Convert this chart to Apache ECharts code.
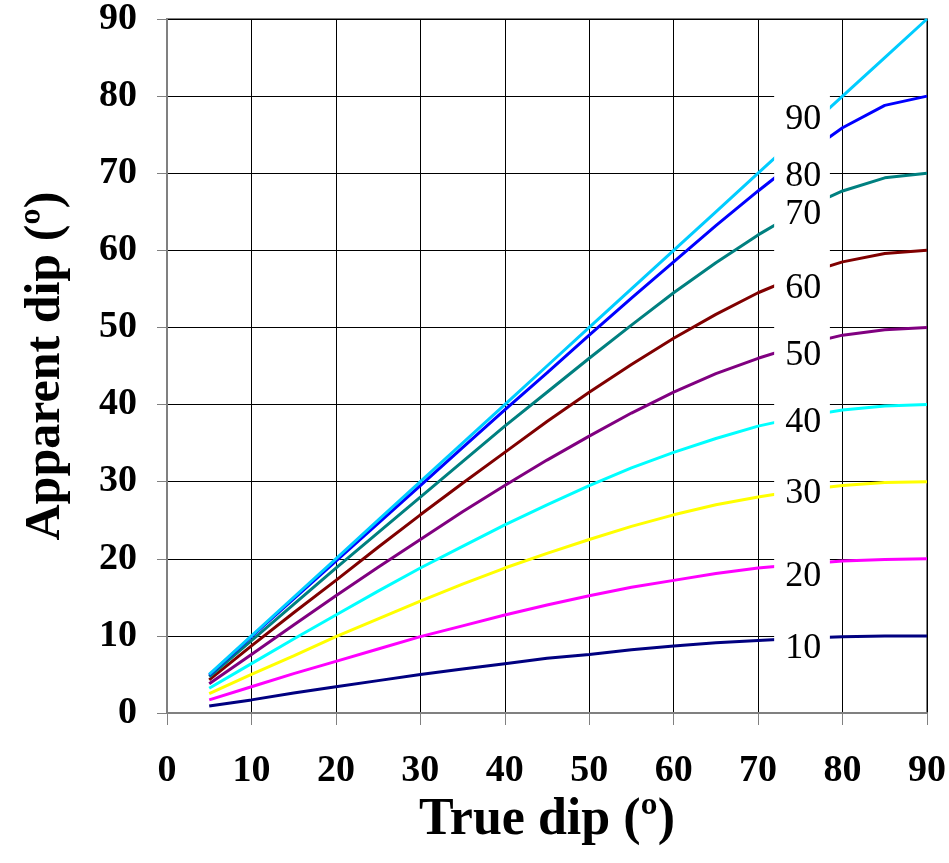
<!DOCTYPE html>
<html>
<head>
<meta charset="utf-8">
<script src="https://cdn.jsdelivr.net/npm/echarts@6/dist/echarts.min.js"></script>
<style>
html,body{margin:0;padding:0;background:#fff;}
#chart{width:949px;height:863px;}
</style>
</head>
<body>
<div id="chart"></div>
<script>
// True dip (x values)
var trueDip = [5,10,15,20,25,30,35,40,45,50,55,60,65,70,75,80,85,90];
// Apparent dip for each angle between strike and section
var dip10 = [0.9,1.7,2.6,3.4,4.2,5.0,5.7,6.4,7.1,7.6,8.2,8.7,9.1,9.4,9.7,9.9,10.0,10.0];
var dip20 = [1.7,3.4,5.1,6.7,8.3,9.9,11.3,12.7,14.0,15.2,16.3,17.2,18.1,18.8,19.3,19.7,19.9,20.0];
var dip30 = [2.5,5.0,7.4,9.9,12.2,14.5,16.7,18.8,20.7,22.5,24.2,25.7,27.0,28.0,28.9,29.5,29.9,30.0];
var dip40 = [3.2,6.4,9.6,12.7,15.8,18.8,21.6,24.4,27.0,29.5,31.8,33.8,35.6,37.2,38.4,39.3,39.8,40.0];
var dip50 = [3.8,7.6,11.4,15.2,18.9,22.5,26.1,29.5,32.8,35.9,38.9,41.6,44.0,46.0,47.7,49.0,49.7,50.0];
var dip60 = [4.3,8.7,13.0,17.2,21.5,25.7,29.8,33.8,37.8,41.6,45.2,48.6,51.7,54.5,56.8,58.5,59.6,60.0];
var dip70 = [4.7,9.4,14.1,18.8,23.4,28.0,32.6,37.2,41.6,46.0,50.3,54.5,58.4,62.0,65.2,67.7,69.4,70.0];
var dip80 = [4.9,9.9,14.8,19.7,24.6,29.5,34.4,39.3,44.1,49.0,53.8,58.5,63.2,67.7,72.0,75.9,78.8,80.0];
var dip90 = [5,10,15,20,25,30,35,40,45,50,55,60,65,70,75,80,85,90];
var angles = ['10','20','30','40','50','60','70','80','90'];
var seriesData = [dip10,dip20,dip30,dip40,dip50,dip60,dip70,dip80,dip90];
var colors = ['#000080','#FF00FF','#FFFF00','#00FFFF','#800080','#800000','#008080','#0000FF','#00CCFF'];
// label anchor positions (data units) for the in-chart labels
var labelX = 73.2;
var labelY = [8.4,17.7,28.5,37.7,46.4,55.1,64.6,69.6,77.0];

var chart = echarts.init(document.getElementById('chart'));
var FONT = '"Liberation Serif","Times New Roman",serif';

var series = seriesData.map(function(arr, i){
  return {
    type:'line', name: angles[i],
    data: trueDip.map(function(x,j){return [x, arr[j]];}),
    showSymbol:false, symbol:'none',
    lineStyle:{color:colors[i], width:3},
    itemStyle:{color:colors[i]},
    z: 2 + i,
    animation:false
  };
});

chart.setOption({
  animation:false,
  backgroundColor:'#fff',
  grid:{left:167, right:20, top:19, bottom:150, show:true, borderColor:'#808080', borderWidth:2, backgroundColor:'transparent'},
  xAxis:{
    type:'value', min:0, max:90, interval:10,
    name:'True dip (º)', nameLocation:'middle', nameGap:66,
    nameTextStyle:{fontFamily:FONT, fontWeight:'bold', fontSize:52, color:'#000'},
    axisLine:{show:true, lineStyle:{color:'#808080', width:2}},
    axisTick:{show:true, inside:false, length:12, lineStyle:{color:'#808080', width:1}},
    axisLabel:{fontFamily:FONT, fontWeight:'bold', fontSize:38, color:'#000', margin:39},
    splitLine:{show:true, lineStyle:{color:'#000', width:1}}
  },
  yAxis:{
    type:'value', min:0, max:90, interval:10,
    name:'Apparent dip (º)', nameLocation:'middle', nameGap:96, nameRotate:90,
    nameTextStyle:{fontFamily:FONT, fontWeight:'bold', fontSize:50, color:'#000'},
    axisLine:{show:true, lineStyle:{color:'#808080', width:2}},
    axisTick:{show:true, inside:false, length:10, lineStyle:{color:'#808080', width:1}},
    axisLabel:{fontFamily:FONT, fontWeight:'bold', fontSize:38, color:'#000', margin:30},
    splitLine:{show:true, lineStyle:{color:'#000', width:1}}
  },
  series: series
});

// white panel that holds the angle labels
var p1 = chart.convertToPixel({gridIndex:0},[71.9, 80.6]);
var p2 = chart.convertToPixel({gridIndex:0},[78.5, 3.0]);
var graphics = [{
  type:'rect', z:100,
  shape:{x:p1[0], y:p1[1], width:p2[0]-p1[0], height:p2[1]-p1[1]},
  style:{fill:'#fff'}
}];
angles.forEach(function(a,i){
  var p = chart.convertToPixel({gridIndex:0},[labelX, labelY[i]]);
  graphics.push({
    type:'text', z:101, x:p[0], y:p[1],
    style:{text:a, fill:'#000', font:'36px '+FONT, textAlign:'left', textVerticalAlign:'middle'}
  });
});
chart.setOption({graphic:graphics});
</script>
</body>
</html>
